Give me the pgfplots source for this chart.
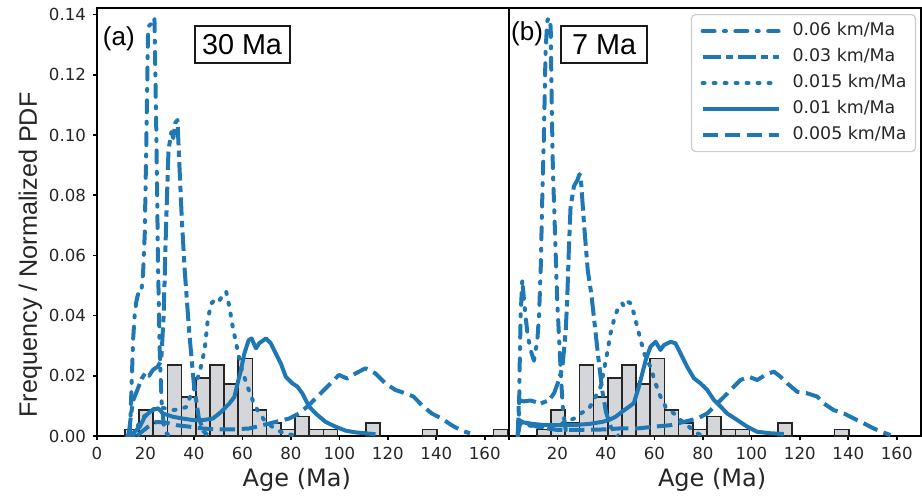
\documentclass[border=0pt]{standalone}
\usepackage{fontspec}
\setmainfont{DejaVu Sans}
\newfontfamily\lib{Liberation Sans}
\usepackage{pgfplots}
\pgfplotsset{compat=1.18}

\definecolor{tabblue}{HTML}{1F77B4}
\definecolor{ink}{HTML}{262626}
\definecolor{histfill}{HTML}{D4D6D9}
\definecolor{histedge}{HTML}{262626}

\tikzset{
  s06/.style={tabblue, line width=2pt, line cap=round, line join=round, dash pattern=on 6pt off 4.7pt on 1pt off 4.7pt},
  s03/.style={tabblue, line width=2pt, line cap=butt, line join=round, dash pattern=on 9.2pt off 2.6pt on 3.2pt off 2.6pt},
  s015/.style={tabblue, line width=2pt, line cap=round, line join=round, dash pattern=on 1pt off 4.5pt},
  s01/.style={tabblue, line width=2pt, line join=round},
  s005/.style={tabblue, line width=2pt, line join=round, dash pattern=on 7.7pt off 3.3pt},
  barstyle/.style={fill=histfill, draw=histedge, line width=0.8pt},
}

\pgfplotsset{
  panel/.style={
    scale only axis, width=206pt, height=214pt,
    xmin=0, xmax=170, ymin=0, ymax=0.1422,
    axis line style={line width=1pt, black},
    tick align=outside, xtick pos=bottom, ytick pos=left,
    major tick length=2pt,
    every tick/.style={black, line width=0.8pt},
    xtick={0,20,40,60,80,100,120,140,160},
    tick label style={font=\fontsize{8.3}{10}\selectfont, text=ink},
    /pgf/number format/assume math mode=true,
    xlabel={Age (Ma)},
    xlabel style={anchor=base, yshift=-25pt, font=\fontsize{12}{14}\selectfont, text=ink},
    no markers,
  },
  histo/.style={ybar, bar width=5.85, bar shift=0pt, barstyle, forget plot},
}

\begin{document}
\begin{tikzpicture}
\useasboundingbox (-48.5pt,-29.5pt) rectangle (412.5pt,218pt);

% (a) 30 Ma
\begin{axis}[panel, name=left,
    ytick={0,0.02,0.04,0.06,0.08,0.1,0.12,0.14},
    yticklabel style={/pgf/number format/.cd, fixed, fixed zerofill, precision=2},
    xlabel style={at={(axis description cs:0.485,0)}},
    ylabel={Frequency / Normalized PDF},
    ylabel style={at={(axis description cs:-0.162,0.423)}, anchor=center, font=\lib\fontsize{12.6}{14}\selectfont, text=ink},
]
\addplot[histo] coordinates {
(14.425,0.00215) (20.275,0.0086) (26.125,0.0043) (31.975,0.02365) (37.825,0.0129)
(43.675,0.01935) (49.525,0.02365) (55.375,0.0172) (61.225,0.0258) (67.075,0.0086)
(72.925,0.0043) (78.775,0.00215) (84.625,0.00645) (90.475,0.00215) (96.325,0.00215)
(113.875,0.0043) (137.275,0.00215) (166.525,0.00215)
};
\addplot[s06] coordinates {
(12.5,0) (13.6,0.001) (14.2,0.015) (14.9,0.032) (15.6,0.041) (16.3,0.045)
(17.2,0.048) (18.3,0.048) (19.0,0.054) (19.7,0.067) (20.4,0.100) (21.1,0.136)
(22.4,0.137) (23.7,0.139) (24.5,0.100) (25.2,0.056) (25.9,0.028) (26.6,0.012)
(27.5,0.004) (28.5,0.001) (30,0)
};
\addplot[s03] coordinates {
(13,0) (14.2,0.008) (15,0.012) (16.5,0.015) (18.4,0.019) (20,0.021) (21.5,0.020)
(23.1,0.022) (25,0.023) (26.5,0.025) (27.5,0.04) (28.5,0.07) (29.5,0.095)
(30.7,0.101) (31.5,0.099) (32.3,0.104) (33.2,0.105) (34,0.09) (35,0.072)
(36.2,0.055) (38,0.035) (40,0.017) (42,0.006) (44,0.0015) (46,0)
};
\addplot[s015] coordinates {
(15,0) (16,0.002) (17.7,0.0047) (19.5,0.0065) (21.1,0.0078) (23.5,0.009)
(25.9,0.0095) (28,0.0092) (30.7,0.0086) (33.5,0.0088) (36.8,0.0096) (38.2,0.0126)
(40.2,0.0163) (42.3,0.021) (44.4,0.0286) (45.7,0.0385) (47.1,0.044) (49.2,0.0457)
(50.5,0.045) (51.9,0.0468) (53.3,0.048) (54.6,0.043) (56,0.0363) (57.4,0.0308)
(59.4,0.023) (62.1,0.0164) (64.2,0.012) (66.2,0.0086) (69,0.0053) (72.4,0.003)
(75.8,0.0014) (79.3,0.0006) (82,0)
};
\addplot[s01] coordinates {
(12.9,0) (15,0.001) (17.7,0.0031) (19.7,0.0064) (21.8,0.008) (23.5,0.0088)
(25.2,0.0092) (27.2,0.0075) (31.3,0.0064) (35.4,0.0058) (39.5,0.0053) (43.7,0.0053)
(47.8,0.0058) (51.2,0.008) (54.6,0.0108) (56.7,0.013) (58,0.0175) (59.4,0.0219)
(60.8,0.0274) (62.6,0.0319) (63.8,0.0324) (65.6,0.0291) (66.9,0.0308) (69.7,0.0324)
(71.7,0.0308) (73.8,0.0274) (75.9,0.024) (77.9,0.0197) (80.6,0.0175) (82.7,0.0164)
(84.7,0.0142) (87.5,0.0098) (90.2,0.0075) (94.3,0.0047) (98.4,0.0031) (102.5,0.0018)
(106.7,0.0012) (110.8,0.0009) (114.9,0.0006)
};
\addplot[s005] coordinates {
(16.5,0) (17.7,0.0009) (21.1,0.0031) (24.5,0.0047) (28.6,0.0044) (32.7,0.0036)
(38.2,0.0031) (43.7,0.0025) (49.2,0.0022) (56,0.0022) (62.8,0.0025) (68.3,0.0036)
(73.8,0.0047) (79.3,0.0058) (83.4,0.0075) (87.5,0.0103) (91.6,0.0136) (95.7,0.0169)
(99.8,0.0203) (103.2,0.0191) (106.7,0.0208) (110.8,0.0225) (114.9,0.0208) (119,0.0175)
(123.1,0.0153) (127.2,0.0142) (130.6,0.0131) (134,0.0103) (138.1,0.0075) (142.2,0.0058)
(146.3,0.0036) (150.4,0.0018) (153.9,0.0009)
};
\node[font=\lib\fontsize{13}{15}\selectfont] at (rel axis cs:0.053,0.929) {(a)};
\node[draw=black!90, line width=1pt, font=\lib\fontsize{14.4}{16}\selectfont,
      minimum width=47.5pt, minimum height=18.5pt, inner sep=0pt] at (rel axis cs:0.352,0.915) {30 Ma};
\end{axis}

% (b) 7 Ma
\begin{axis}[panel, at={(left.south east)}, anchor=south west,
    ytick=\empty,
    xticklabels={,20,40,60,80,100,120,140,160},
    xlabel style={at={(axis description cs:0.493,0)}},
    legend style={at={(axis description cs:0.988,0.986)}, anchor=north east,
      draw=black!20, line width=0.6pt, rounded corners=2pt, fill=white,
      font=\fontsize{8.7}{10}\selectfont, text=ink,
      inner xsep=4.5pt, inner ysep=4pt, row sep=4.5pt,
      nodes={inner sep=0pt, text height=6.5pt, text depth=2pt},
      /tikz/every odd column/.style={column sep=6pt}},
    legend cell align=left,
    legend image code/.code={\draw[#1] (0pt,0pt) -- (38pt,0pt);},
]
\addplot[histo] coordinates {
(14.425,0.00215) (20.275,0.0086) (26.125,0.0043) (31.975,0.02365) (37.825,0.0129)
(43.675,0.01935) (49.525,0.02365) (55.375,0.0172) (61.225,0.0258) (67.075,0.0086)
(72.925,0.0043) (78.775,0.00215) (84.625,0.00645) (90.475,0.00215) (96.325,0.00215)
(113.875,0.0043) (137.275,0.00215)
};
\addplot[s06] coordinates {
(3.6,0) (4.1,0.0064) (4.4,0.023) (4.8,0.04) (5.5,0.052) (6.2,0.045) (7.6,0.034)
(8.9,0.0286) (10.3,0.025) (11.7,0.032) (12.4,0.04) (13.1,0.056) (13.7,0.078)
(14.4,0.1) (15.1,0.128) (15.8,0.138) (16.5,0.139) (17.2,0.136) (17.6,0.112)
(18.1,0.089) (19,0.067) (19.9,0.045) (20.9,0.0286) (21.6,0.0175) (22.3,0.0086)
(23.4,0.002) (25,0)
};
\addlegendentry{0.06 km/Ma}
\addplot[s03] coordinates {
(3.6,0) (4.1,0.012) (6,0.0115) (8.9,0.0118) (13.1,0.0108) (16.5,0.0119) (18.6,0.0142)
(20.6,0.0186) (22,0.0229) (22.7,0.0285) (23.4,0.035) (24,0.045) (24.7,0.062)
(25.4,0.076) (26.8,0.083) (28.2,0.085) (29.1,0.087) (29.6,0.086) (31,0.07)
(32.5,0.055) (34,0.047) (35.5,0.036) (37,0.025) (38.5,0.015) (40,0.008) (42,0.003) (45,0)
};
\addlegendentry{0.03 km/Ma}
\addplot[s015] coordinates {
(3.6,0) (4.5,0.004) (8,0.0035) (14,0.003) (20,0.0035) (24,0.0048) (26.8,0.0058)
(29.6,0.0075) (33,0.0091) (35.7,0.013) (37.8,0.0164) (39.2,0.022) (40.5,0.0275)
(41.9,0.0341) (43.3,0.0386) (44.7,0.0419) (46.7,0.0441) (47.5,0.043) (48.8,0.0447)
(50.2,0.0441) (51.5,0.0408) (52.9,0.0363) (54.3,0.0319) (56,0.027) (58.4,0.0229)
(60.5,0.0174) (62.5,0.0131) (64.6,0.0097) (68,0.0075) (70.8,0.0053) (74.2,0.0031)
(77.7,0.0009) (80,0)
};
\addlegendentry{0.015 km/Ma}
\addplot[s01] coordinates {
(3.6,0) (4.1,0.0053) (6,0.0045) (10,0.004) (13.7,0.0037) (20,0.0036) (27.5,0.0037)
(33,0.004) (38.5,0.0047) (41.2,0.0053) (44,0.0064) (46.7,0.0081) (49.5,0.0097)
(51.5,0.0109) (53.6,0.0164) (55,0.0208) (56.4,0.0252) (58.4,0.0297) (60.5,0.0313)
(62.5,0.0286) (63.9,0.0302) (66.7,0.0313) (68.7,0.0308) (70.8,0.0274) (73.5,0.023)
(76.3,0.0192) (79,0.0175) (81.8,0.0153) (84.5,0.012) (87.3,0.0098) (90,0.0075)
(94.2,0.0053) (98.3,0.0031) (102.4,0.0014) (107.9,0.0009) (113.4,0.0007)
};
\addlegendentry{0.01 km/Ma}
\addplot[s005] coordinates {
(3.6,0) (4.5,0.004) (6,0.0055) (8,0.004) (12,0.003) (20,0.002) (30,0.002) (40,0.0022)
(45.4,0.0025) (52.9,0.0025) (59.8,0.0031) (66.7,0.0036) (72.2,0.0047) (77.7,0.0058)
(81.8,0.0075) (85.9,0.0108) (88.7,0.013) (92.8,0.0164) (95.5,0.0186) (99,0.0197)
(102.4,0.0186) (105.8,0.0203) (109.3,0.0214) (112,0.0197) (114.8,0.0175) (118.9,0.0147)
(123,0.0142) (127.2,0.0131) (129.9,0.0108) (134,0.0086) (138.2,0.0075) (142.3,0.0058)
(146.4,0.0042) (150.5,0.0025) (154.7,0.0011) (157.4,0.0003)
};
\addlegendentry{0.005 km/Ma}
\node[font=\lib\fontsize{13}{15}\selectfont] at (rel axis cs:0.044,0.939) {(b)};
\node[draw=black!90, line width=1pt, font=\lib\fontsize{14.4}{16}\selectfont,
      minimum width=43pt, minimum height=18.5pt, inner sep=0pt] at (rel axis cs:0.231,0.914) {7 Ma};
\end{axis}
\end{tikzpicture}
\end{document}
